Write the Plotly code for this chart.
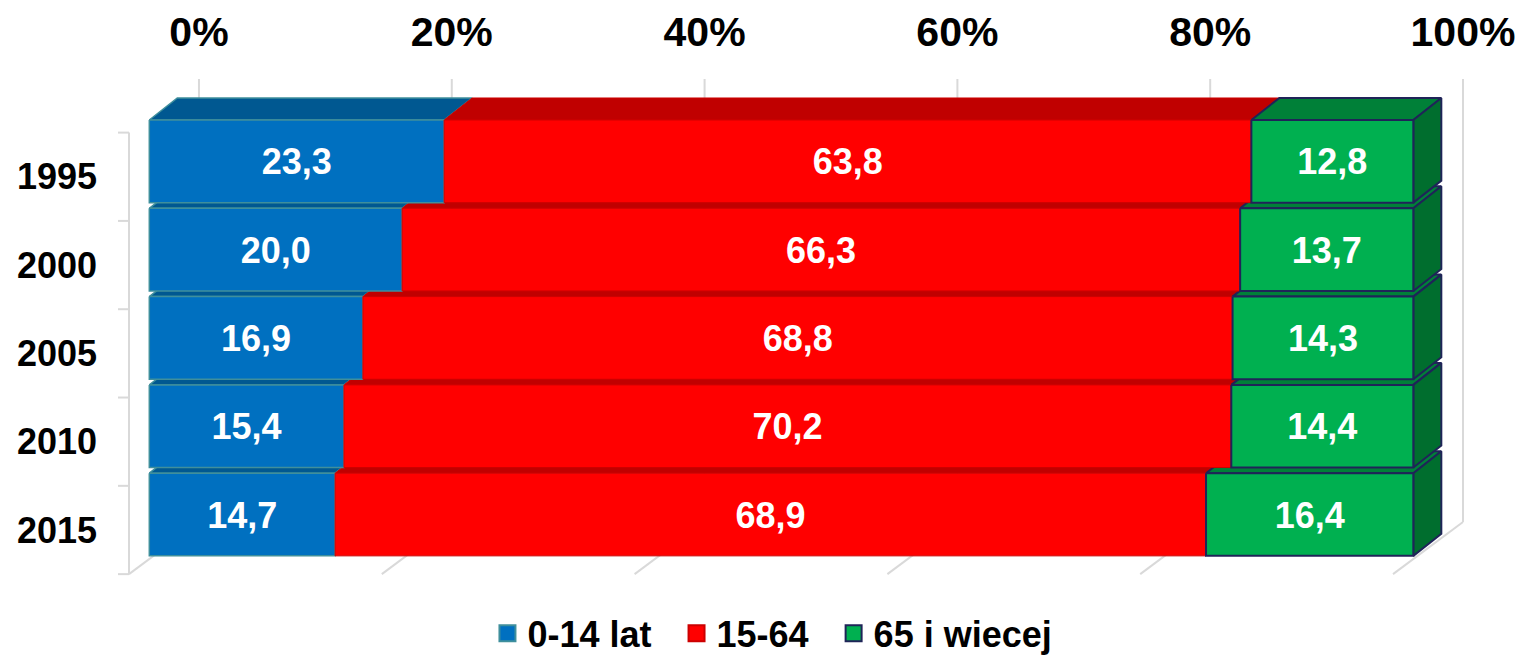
import plotly.graph_objects as go

# ---------------- data ----------------
years = ["1995", "2000", "2005", "2010", "2015"]
age_0_14 = [23.3, 20.0, 16.9, 15.4, 14.7]
age_15_64 = [63.8, 66.3, 68.8, 70.2, 68.9]
age_65_plus = [12.8, 13.7, 14.3, 14.4, 16.4]
series_names = ["0-14 lat", "15-64", "65 i wiecej"]
x_ticks = [0, 20, 40, 60, 80, 100]

# ---------------- style ----------------
FONT = "Liberation Sans, Arial, sans-serif"
front_col = ["#0070C0", "#FF0000", "#00B050"]
top_col = ["#005891", "#C00000", "#008038"]
side_col = "#006E2E"
edge_col = ["#3F8F9C", "#CC0000", "#1F2458"]
edge_w = [1.5, 1, 2]
grid_col = "#D9D9D9"

# 3-D geometry (data units: x = percent, y = row index)
H = 0.468          # half height of front face
DX, DY = 2.215, 0.249     # bar depth offset
DXW = 3.93         # back wall offset in x
BACK_TOP, BACK_BOT = -0.932, 4.085
FX = -1.606        # floor front / left wall x offset
WALL_TOP = -0.325
WALL_BOT = WALL_TOP + len(years)
TICK_LEN = 0.87
LABEL_DY = 0.045   # small baseline correction for value labels

fig = go.Figure()

def line(xs, ys):
    fig.add_trace(go.Scatter(x=xs, y=ys, mode="lines", line=dict(color=grid_col, width=2),
                             hoverinfo="skip", showlegend=False))

# back wall gridlines and floor lines
for t in x_ticks:
    line([t + DXW, t + DXW], [BACK_TOP, BACK_BOT])
    line([t + FX, t + DXW], [WALL_BOT, BACK_BOT])
# left wall
line([FX, FX], [WALL_TOP, WALL_BOT])
for j in range(len(years) + 1):
    yy = WALL_TOP + j
    line([FX - TICK_LEN, FX], [yy, yy])

def poly(xs, ys, fill, edge, w):
    fig.add_trace(go.Scatter(x=xs + [xs[0]], y=ys + [ys[0]], mode="lines", fill="toself",
                             fillcolor=fill, line=dict(color=edge, width=w),
                             hoverinfo="skip", showlegend=False))

series = [age_0_14, age_15_64, age_65_plus]
label_x, label_y, label_t = [], [], []
# draw from bottom row upward so upper bars occlude lower tops
for i in reversed(range(len(years))):
    vals = [s[i] for s in series]
    tot = sum(vals)
    bounds = [0.0]
    for v in vals:
        bounds.append(bounds[-1] + v / tot * 100)
    yt, yb = i - H, i + H
    for k in range(3):
        x0, x1 = bounds[k], bounds[k + 1]
        poly([x0, x1, x1 + DX, x0 + DX], [yt, yt, yt - DY, yt - DY], top_col[k], edge_col[k], edge_w[k])
    xe = bounds[-1]
    poly([xe, xe + DX, xe + DX, xe], [yt, yt - DY, yb - DY, yb], side_col, edge_col[2], edge_w[2])
    for k in range(3):
        x0, x1 = bounds[k], bounds[k + 1]
        poly([x0, x1, x1, x0], [yt, yt, yb, yb], front_col[k], edge_col[k], edge_w[k])
        label_x.append((x0 + x1) / 2)
        label_y.append(i + LABEL_DY)
        label_t.append(f"{vals[k]:.1f}".replace(".", ","))

fig.add_trace(go.Scatter(x=label_x, y=label_y, text=label_t, mode="text",
                         textposition="middle center",
                         textfont=dict(family=FONT, size=36, color="white", weight="bold"),
                         hoverinfo="skip", showlegend=False))

# legend entries
for k, nm in enumerate(series_names):
    fig.add_trace(go.Scatter(x=[None], y=[None], mode="markers", name=nm + "\u00a0\u00a0",
                             marker=dict(symbol="square", size=20, color=front_col[k],
                                         line=dict(color=edge_col[k], width=2))))

fig.update_layout(
    width=1518, height=655,
    margin=dict(l=110, r=10, t=70, b=70, autoexpand=False),
    paper_bgcolor="white", plot_bgcolor="white",
    showlegend=True,
    legend=dict(orientation="h", x=0.27, xanchor="left", y=-0.094, yanchor="middle",
                font=dict(family=FONT, size=36, color="black", weight="bold"),
                itemclick=False, itemdoubleclick=False),
    xaxis=dict(range=[-3.109, 107.49], side="top", tickmode="array",
               tickvals=[t + DXW for t in x_ticks], ticktext=[f"{t}%" for t in x_ticks],
               showgrid=False, zeroline=False, showline=False, ticks="",
               ticklabelstandoff=15, automargin=False,
               tickfont=dict(family=FONT, size=41, color="black", weight="bold")),
    yaxis=dict(range=[4.798, -1.034], tickmode="array",
               tickvals=[WALL_TOP + 0.5 + i for i in range(len(years))], ticktext=years,
               showgrid=False, zeroline=False, showline=False, ticks="",
               ticklabelstandoff=12, automargin=False,
               tickfont=dict(family=FONT, size=36, color="black", weight="bold")),
)

fig.write_html("out.html", config={"displayModeBar": False},
               post_script="document.body.style.margin='0';document.body.style.overflow='hidden';")
